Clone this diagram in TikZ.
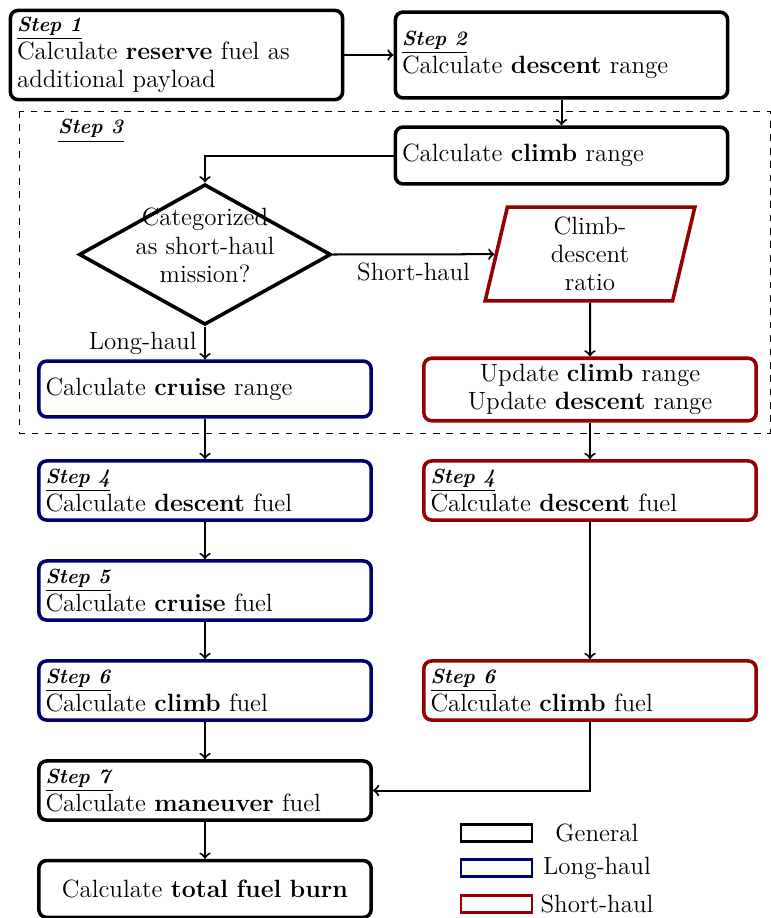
\documentclass[tikz,border=0pt]{standalone}
\usepackage{fontspec}
\usetikzlibrary{shapes.geometric}
\definecolor{longblue}{RGB}{0,0,110}
\definecolor{shortred}{RGB}{150,0,0}
\newcommand{\stepname}[1]{{\fontsize{9.2}{10}\selectfont\underline{\textbf{\textit{Step #1}}}}}
\begin{document}
\begin{tikzpicture}[x=0.4484pt,y=-0.4484pt,font=\fontsize{11.2}{12.6}\selectfont]
    \tikzset{box/.style={draw, line width=1.6pt, rounded corners=3.5pt, minimum width=149pt, text width=143pt, inner xsep=3pt, inner ysep=2.5pt, align=left, minimum height=26.5pt},
             genbox/.style={box},
             longbox/.style={box, draw=longblue},
             shortbox/.style={box, draw=shortred},
             decision/.style={diamond, draw, line width=1.6pt, minimum width=113pt, minimum height=63pt, inner sep=0pt},
             inout/.style={trapezium, trapezium left angle=75, trapezium right angle=105, trapezium stretches body, draw=shortred, line width=1.6pt, minimum width=94pt, minimum height=42pt, inner sep=2pt, align=center},
             legbox/.style={draw, line width=1.3pt, minimum width=31.8pt, minimum height=7.6pt, inner sep=0pt},
             arr/.style={->, line width=0.9pt}}
    \useasboundingbox (0,0) rectangle (771,918);
    \draw [dashed] (19,111) rectangle (770,433);
    \node (s3) at (91,131) {\stepname{3}};
    \node [genbox, minimum height=40pt] (s1) at (176.5,55) {\stepname{1}\\Calculate \textbf{reserve} fuel as\\additional payload};
    \node [genbox, minimum height=38.5pt] (s2) at (561.5,55) {\stepname{2}\\Calculate \textbf{descent} range};
    \node [genbox, minimum height=25.5pt] (climb) at (561.5,155.5) {Calculate \textbf{climb} range};
    \node [decision] (cat) at (205,254.5) {\smash{\makebox[0pt]{\begin{tabular}{@{}c@{}}Categorized\\as short-haul\\mission?\end{tabular}}}};
    \node [inout] (ratio) at (590,254) {Climb-\\descent\\ratio};
    \node [longbox, minimum height=25pt] (cruise) at (205,389) {Calculate \textbf{cruise} range};
    \node [shortbox, align=center, minimum height=28pt] (upd) at (590,389.5) {Update \textbf{climb} range\\Update \textbf{descent} range};
    \node [longbox] (d4l) at (205,490.5) {\stepname{4}\\Calculate \textbf{descent} fuel};
    \node [shortbox] (d4s) at (590,490.5) {\stepname{4}\\Calculate \textbf{descent} fuel};
    \node [longbox] (c5) at (205,590.5) {\stepname{5}\\Calculate \textbf{cruise} fuel};
    \node [longbox] (c6l) at (205,690.5) {\stepname{6}\\Calculate \textbf{climb} fuel};
    \node [shortbox] (c6s) at (590,690.5) {\stepname{6}\\Calculate \textbf{climb} fuel};
    \node [genbox] (m7) at (205,790.5) {\stepname{7}\\Calculate \textbf{maneuver} fuel};
    \node [genbox, align=center, minimum height=25.5pt] (tot) at (205,889) {Calculate \textbf{total fuel burn}};
    % connectors
    \draw [arr] (s1) -- (s2);
    \draw [arr] (s2) -- (climb);
    \draw [arr] (climb.west) -| (cat.north);
    \draw [arr] (cat.east) -- node [below] {Short-haul} (ratio);
    \draw [arr] (cat.south) -- node [left] {Long-haul} (cruise);
    \draw [arr] (ratio) -- (upd);
    \draw [arr] (cruise) -- (d4l);
    \draw [arr] (upd) -- (d4s);
    \draw [arr] (d4l) -- (c5);
    \draw [arr] (c5) -- (c6l);
    \draw [arr] (c6l) -- (m7);
    \draw [arr] (m7) -- (tot);
    \draw [arr] (d4s) -- (c6s);
    \draw [arr] (c6s.south) |- (m7.east);
    % legend
    \node [legbox] (lgen) at (496.5,833) {};
    \node (tgen) at (597,833) {General};
    \node [legbox, draw=longblue] (llong) at (496.5,868) {};
    \node (tlong) at (597,868) {Long-haul};
    \node [legbox, draw=shortred] (lshort) at (496.5,904) {};
    \node (tshort) at (597,904) {Short-haul};
\end{tikzpicture}
\end{document}
